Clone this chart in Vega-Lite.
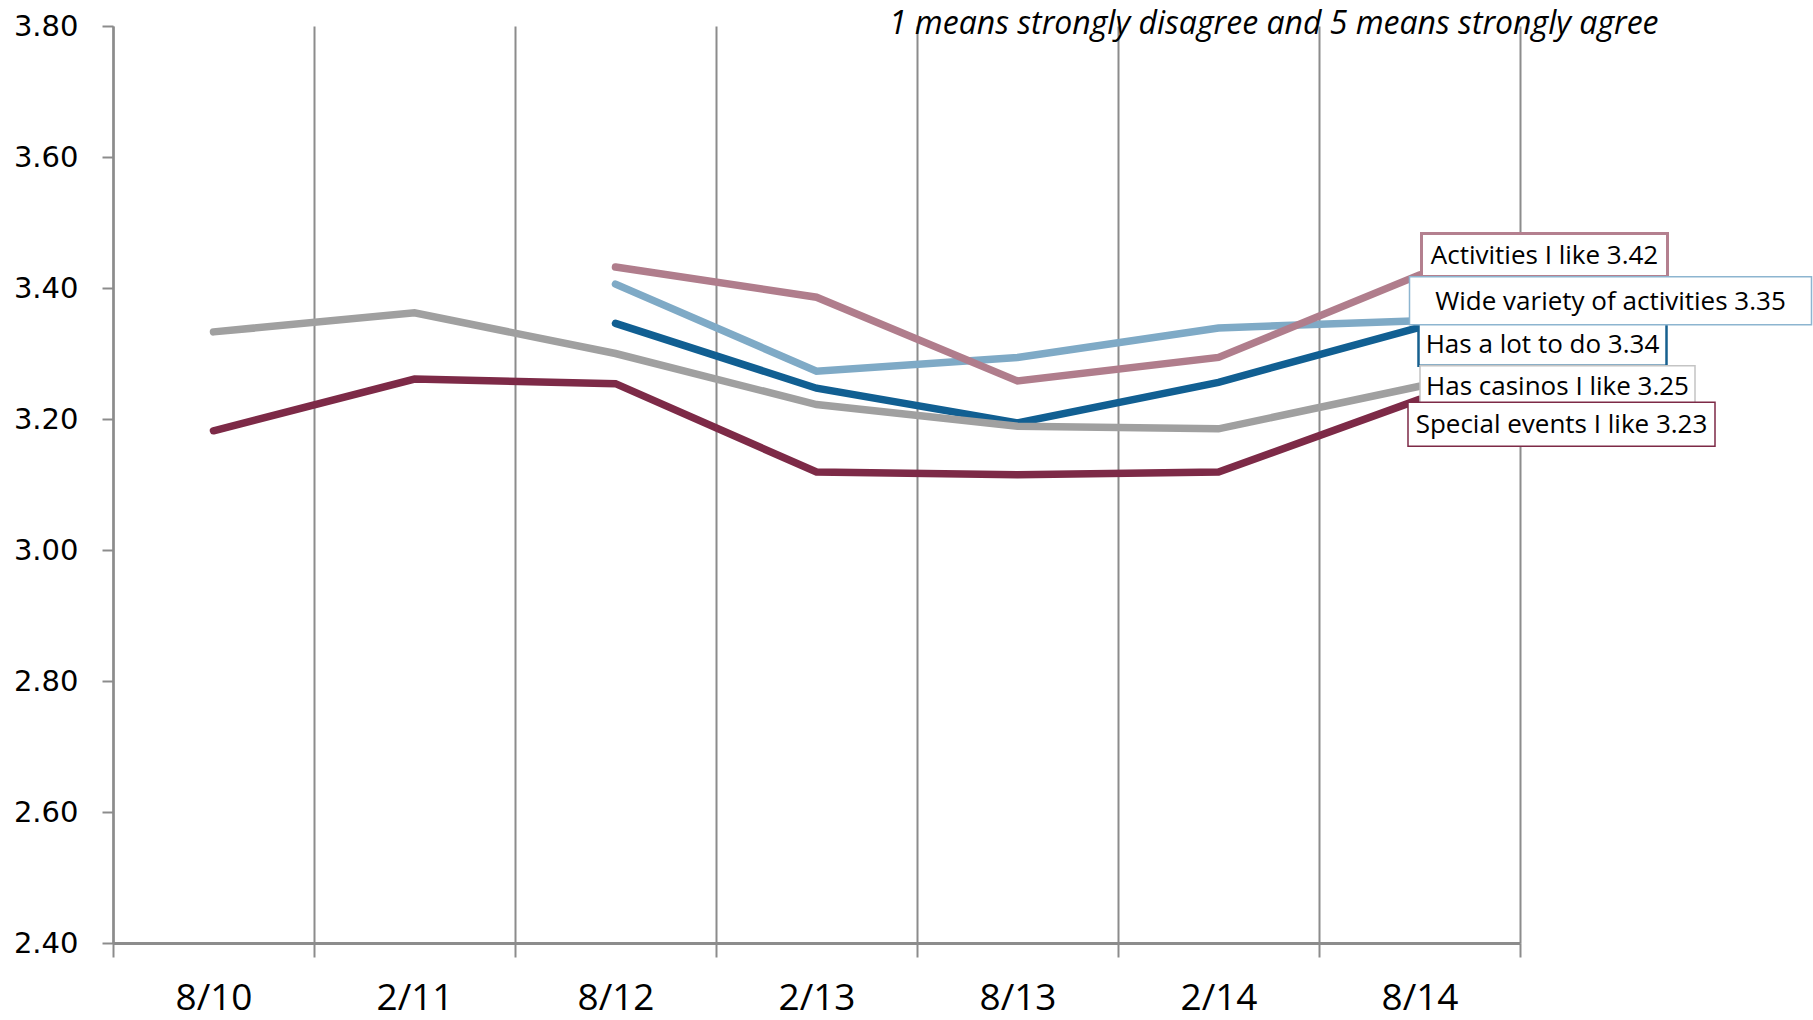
{
  "$schema": "https://vega.github.io/schema/vega-lite/v6.json",
  "width": 1407,
  "height": 917,
  "autosize": {"type": "none"},
  "padding": {"left": 113, "top": 26, "right": 293, "bottom": 77},
  "config": {"view": {"stroke": null}, "font": "Open Sans"},
  "datasets": {
    "lines": [
      {"series": "Has a lot to do", "date": "8/12", "value": 3.346},
      {"series": "Has a lot to do", "date": "2/13", "value": 3.247},
      {"series": "Has a lot to do", "date": "8/13", "value": 3.194},
      {"series": "Has a lot to do", "date": "2/14", "value": 3.256},
      {"series": "Has a lot to do", "date": "8/14", "value": 3.34},
      {"series": "Wide variety of activities", "date": "8/12", "value": 3.406},
      {"series": "Wide variety of activities", "date": "2/13", "value": 3.273},
      {"series": "Wide variety of activities", "date": "8/13", "value": 3.294},
      {"series": "Wide variety of activities", "date": "2/14", "value": 3.339},
      {"series": "Wide variety of activities", "date": "8/14", "value": 3.35},
      {"series": "Activities I like", "date": "8/12", "value": 3.432},
      {"series": "Activities I like", "date": "2/13", "value": 3.386},
      {"series": "Activities I like", "date": "8/13", "value": 3.258},
      {"series": "Activities I like", "date": "2/14", "value": 3.294},
      {"series": "Activities I like", "date": "8/14", "value": 3.42},
      {"series": "Has casinos I like", "date": "8/10", "value": 3.333},
      {"series": "Has casinos I like", "date": "2/11", "value": 3.362},
      {"series": "Has casinos I like", "date": "8/12", "value": 3.3},
      {"series": "Has casinos I like", "date": "2/13", "value": 3.222},
      {"series": "Has casinos I like", "date": "8/13", "value": 3.189},
      {"series": "Has casinos I like", "date": "2/14", "value": 3.185},
      {"series": "Has casinos I like", "date": "8/14", "value": 3.25},
      {"series": "Special events I like", "date": "8/10", "value": 3.182},
      {"series": "Special events I like", "date": "2/11", "value": 3.261},
      {"series": "Special events I like", "date": "8/12", "value": 3.254},
      {"series": "Special events I like", "date": "2/13", "value": 3.119},
      {"series": "Special events I like", "date": "8/13", "value": 3.115},
      {"series": "Special events I like", "date": "2/14", "value": 3.119},
      {"series": "Special events I like", "date": "8/14", "value": 3.23}
    ],
    "note": [
      {"date": "8/14", "value": 3.8, "note": "1 means strongly disagree and 5 means strongly agree"}
    ]
  },
  "encoding": {
    "x": {
      "field": "date",
      "type": "ordinal",
      "scale": {"domain": ["8/10", "2/11", "8/12", "2/13", "8/13", "2/14", "8/14"], "paddingInner": 0, "paddingOuter": 0},
      "axis": {
        "title": null,
        "tickBand": "extent",
        "grid": true,
        "gridColor": "#8c8c8c",
        "gridWidth": 2,
        "domainColor": "#8c8c8c",
        "domainWidth": 3,
        "tickColor": "#8c8c8c",
        "tickWidth": 2,
        "tickSize": 14,
        "labelPadding": 23,
        "labelFont": "Open Sans",
        "labelFontSize": 37,
        "labelColor": "#000000",
        "labelAngle": 0
      }
    },
    "y": {
      "field": "value",
      "type": "quantitative",
      "scale": {"domain": [2.4, 3.8], "nice": false, "zero": false},
      "axis": {
        "title": null,
        "values": [2.4, 2.6, 2.8, 3.0, 3.2, 3.4, 3.6, 3.8],
        "format": ".2f",
        "grid": false,
        "domainColor": "#8c8c8c",
        "domainWidth": 2.5,
        "tickColor": "#8c8c8c",
        "tickWidth": 2,
        "tickSize": 11,
        "labelPadding": 24,
        "labelFont": "DejaVu Sans",
        "labelFontSize": 29,
        "labelColor": "#000000"
      }
    }
  },
  "layer": [
    {
      "data": {"name": "note"},
      "mark": {"type": "text", "font": "Open Sans", "fontStyle": "italic", "fontSize": 32, "color": "#000000", "align": "right", "baseline": "alphabetic", "dx": 239, "dy": 8},
      "encoding": {"text": {"field": "note"}}
    },
    {
      "data": {"name": "lines"},
      "mark": {"type": "line", "strokeWidth": 7.5, "strokeCap": "round"},
      "encoding": {
        "color": {
          "field": "series",
          "type": "nominal",
          "scale": {
            "domain": ["Has a lot to do", "Wide variety of activities", "Activities I like", "Has casinos I like", "Special events I like"],
            "range": ["#115f92", "#7faac6", "#b07d8c", "#a0a0a0", "#7d2a47"]
          },
          "legend": null
        }
      }
    },
    {
      "data": {"name": "lines"},
      "transform": [{"filter": "datum.date === '8/14' && datum.series === 'Activities I like'"}],
      "layer": [
        {"mark": {"type": "point", "shape": "M-1,-0.1748H1V0.1748H-1Z", "size": 60516, "filled": true, "fill": "#ffffff", "fillOpacity": 1, "opacity": 1, "stroke": "#b4808f", "strokeWidth": 3, "xOffset": 125, "yOffset": -20}},
        {"mark": {"type": "text", "text": "Activities I like 3.42", "font": "Open Sans", "fontSize": 26, "color": "#000000", "align": "center", "baseline": "middle", "dx": 125, "dy": -19}}
      ]
    },
    {
      "data": {"name": "lines"},
      "transform": [{"filter": "datum.date === '8/14' && datum.series === 'Has a lot to do'"}],
      "layer": [
        {"mark": {"type": "point", "shape": "M-1,-0.1734H1V0.1734H-1Z", "size": 61504, "filled": true, "fill": "#ffffff", "fillOpacity": 1, "opacity": 1, "stroke": "#17608f", "strokeWidth": 2.5, "xOffset": 123, "yOffset": 17}},
        {"mark": {"type": "text", "text": "Has a lot to do 3.34", "font": "Open Sans", "fontSize": 26, "color": "#000000", "align": "center", "baseline": "middle", "dx": 123, "dy": 18}}
      ]
    },
    {
      "data": {"name": "lines"},
      "transform": [{"filter": "datum.date === '8/14' && datum.series === 'Has casinos I like'"}],
      "layer": [
        {"mark": {"type": "point", "shape": "M-1,-0.1491H1V0.1491H-1Z", "size": 75625, "filled": true, "fill": "#ffffff", "fillOpacity": 1, "opacity": 1, "stroke": "#c4c4c4", "strokeWidth": 1.5, "xOffset": 138, "yOffset": 0}},
        {"mark": {"type": "text", "text": "Has casinos I like 3.25", "font": "Open Sans", "fontSize": 26, "color": "#000000", "align": "center", "baseline": "middle", "dx": 138, "dy": 1}}
      ]
    },
    {
      "data": {"name": "lines"},
      "transform": [{"filter": "datum.date === '8/14' && datum.series === 'Wide variety of activities'"}],
      "layer": [
        {"mark": {"type": "point", "shape": "M-1,-0.1194H1V0.1194H-1Z", "size": 161604, "filled": true, "fill": "#ffffff", "fillOpacity": 1, "opacity": 1, "stroke": "#8db5d0", "strokeWidth": 1.5, "xOffset": 191, "yOffset": -20}},
        {"mark": {"type": "text", "text": "Wide variety of activities 3.35", "font": "Open Sans", "fontSize": 26, "color": "#000000", "align": "center", "baseline": "middle", "dx": 191, "dy": -19}}
      ]
    },
    {
      "data": {"name": "lines"},
      "transform": [{"filter": "datum.date === '8/14' && datum.series === 'Special events I like'"}],
      "layer": [
        {"mark": {"type": "point", "shape": "M-1,-0.1433H1V0.1433H-1Z", "size": 94249, "filled": true, "fill": "#ffffff", "fillOpacity": 1, "opacity": 1, "stroke": "#7d2a47", "strokeWidth": 1.5, "xOffset": 142, "yOffset": 25}},
        {"mark": {"type": "text", "text": "Special events I like 3.23", "font": "Open Sans", "fontSize": 26, "color": "#000000", "align": "center", "baseline": "middle", "dx": 142, "dy": 26}}
      ]
    }
  ]
}
